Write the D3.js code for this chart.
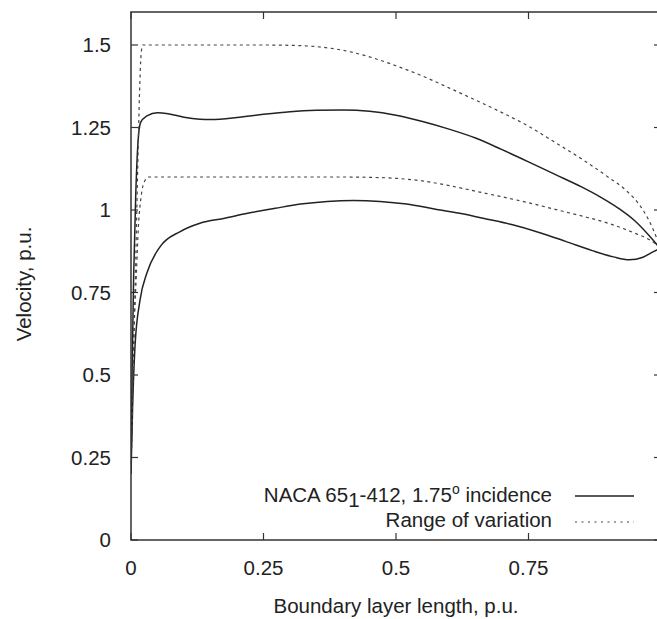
<!DOCTYPE html>
<html>
<head>
<meta charset="utf-8">
<script src="https://cdn.jsdelivr.net/npm/d3@7"></script>
<style>
  body { margin: 0; background: #fff; }
  text { font-family: "Liberation Sans", Arial, sans-serif; fill: #222; }
</style>
</head>
<body>
<svg id="svg" width="657" height="619"></svg>
<script>
// 速度分布 (x: 境界層長さ, y: 速度) 値は図から読み取り
const upperX = [0, 0.002, 0.005, 0.009, 0.013, 0.018, 0.03, 0.05, 0.07, 0.1, 0.13, 0.15, 0.2, 0.25, 0.3, 0.35, 0.4, 0.45, 0.5, 0.55, 0.6, 0.65, 0.7, 0.75, 0.8, 0.85, 0.885, 0.92, 0.95, 0.98, 1.0];
const upperY = [0.2, 0.5, 0.8, 1.05, 1.2, 1.265, 1.285, 1.295, 1.292, 1.281, 1.275, 1.274, 1.28, 1.29, 1.298, 1.302, 1.303, 1.299, 1.287, 1.268, 1.245, 1.218, 1.183, 1.146, 1.108, 1.07, 1.04, 1.005, 0.968, 0.918, 0.88];

const lowerX = [0, 0.003, 0.0075, 0.017, 0.03, 0.055, 0.092, 0.13, 0.177, 0.22, 0.272, 0.32, 0.37, 0.42, 0.47, 0.52, 0.57, 0.62, 0.67, 0.72, 0.77, 0.82, 0.87, 0.91, 0.94, 0.966, 0.985, 1.0];
const lowerY = [0.2, 0.4, 0.586, 0.727, 0.809, 0.889, 0.934, 0.96, 0.975, 0.99, 1.005, 1.018, 1.026, 1.029, 1.026, 1.018, 1.004, 0.99, 0.973, 0.955, 0.932, 0.905, 0.877, 0.858, 0.849, 0.857, 0.873, 0.885];

// 変動範囲 (点線)
const rangeHiX = [0, 0.004, 0.009, 0.013, 0.016, 0.019, 0.022, 0.25, 0.3, 0.35, 0.4, 0.45, 0.5, 0.55, 0.6, 0.65, 0.7, 0.75, 0.8, 0.85, 0.9, 0.935, 0.966, 0.985, 1.0];
const rangeHiY = [0.2, 0.5, 0.85, 1.15, 1.35, 1.47, 1.5, 1.5, 1.499, 1.495, 1.484, 1.464, 1.437, 1.406, 1.37, 1.333, 1.295, 1.254, 1.205, 1.155, 1.1, 1.058, 1.0, 0.942, 0.88];

const rangeLoX = [0, 0.005, 0.01, 0.014, 0.019, 0.025, 0.033, 0.4, 0.45, 0.5, 0.55, 0.6, 0.65, 0.7, 0.75, 0.8, 0.85, 0.9, 0.947, 0.979, 1.0];
const rangeLoY = [0.2, 0.6, 0.8, 0.95, 1.04, 1.085, 1.1, 1.1, 1.099, 1.096, 1.088, 1.074, 1.057, 1.04, 1.022, 1.002, 0.982, 0.96, 0.932, 0.909, 0.885];

const xTicks = [0, 0.25, 0.5, 0.75];
const yTicks = [0, 0.25, 0.5, 0.75, 1, 1.25, 1.5];
const legendLabels = ["NACA 65", "Range of variation"];

const svg = d3.select("#svg");
const pLeft = 131, pRight = 661, pTop = 12, pBottom = 540;
const fs = "20.5px";

const x = d3.scaleLinear().domain([0, 1]).range([pLeft, pRight]);
const y = d3.scaleLinear().domain([0, 1.6]).range([pBottom, pTop]);

svg.append("clipPath").attr("id", "clip")
  .append("rect").attr("x", pLeft).attr("y", pTop)
  .attr("width", pRight - pLeft).attr("height", pBottom - pTop);

//目盛り（四辺とも内向き）
const tickLen = 7;
const tickG = svg.append("g").attr("stroke", "#333").attr("stroke-width", 1.2);
xTicks.forEach(t => {
  tickG.append("line").attr("x1", x(t)).attr("x2", x(t)).attr("y1", pBottom).attr("y2", pBottom - tickLen);
  tickG.append("line").attr("x1", x(t)).attr("x2", x(t)).attr("y1", pTop).attr("y2", pTop + tickLen);
});
yTicks.forEach(t => {
  tickG.append("line").attr("x1", pLeft).attr("x2", pLeft + tickLen).attr("y1", y(t)).attr("y2", y(t));
  tickG.append("line").attr("x1", pRight).attr("x2", pRight - tickLen).attr("y1", y(t)).attr("y2", y(t));
});

// 目盛りラベル
svg.append("g").selectAll("text").data(xTicks).join("text")
  .attr("x", x).attr("y", 575)
  .attr("text-anchor", "middle").style("font-size", fs)
  .text(d => d);
svg.append("g").selectAll("text").data(yTicks).join("text")
  .attr("x", 111).attr("y", d => y(d)).attr("dy", "0.36em")
  .attr("text-anchor", "end").style("font-size", fs)
  .text(d => d);

// 軸タイトル
svg.append("text").attr("x", 396).attr("y", 613)
  .attr("text-anchor", "middle").style("font-size", fs)
  .text("Boundary layer length, p.u.");
svg.append("text")
  .attr("transform", "translate(31,284) rotate(-90)")
  .attr("text-anchor", "middle").style("font-size", fs)
  .text("Velocity, p.u.");

// 曲線
const line = d3.line().x(d => x(d[0])).y(d => y(d[1])).curve(d3.curveMonotoneX);
const plot = svg.append("g").attr("clip-path", "url(#clip)").attr("fill", "none");
const curves = [
  { xs: upperX, ys: upperY, dash: null },
  { xs: lowerX, ys: lowerY, dash: null },
  { xs: rangeHiX, ys: rangeHiY, dash: "3,3.5" },
  { xs: rangeLoX, ys: rangeLoY, dash: "3,3.5" },
];
curves.forEach(c => {
  plot.append("path")
    .attr("d", line(d3.zip(c.xs, c.ys)))
    .attr("stroke", c.dash ? "#444" : "#222")
    .attr("stroke-width", c.dash ? 1.2 : 1.5)
    .attr("stroke-dasharray", c.dash);
});

// 枠
svg.append("rect").attr("x", pLeft).attr("y", pTop)
  .attr("width", pRight - pLeft).attr("height", pBottom - pTop)
  .attr("fill", "none").attr("stroke", "#333").attr("stroke-width", 1.5);

// 凡例
const t1 = svg.append("text").attr("x", 552).attr("y", 502)
  .attr("text-anchor", "end").style("font-size", fs);
t1.append("tspan").text(legendLabels[0]);
t1.append("tspan").attr("dy", 5).text("1");
t1.append("tspan").attr("dy", -5).text("-412, 1.75");
t1.append("tspan").attr("dy", -8).style("font-size", "14px").text("o");
t1.append("tspan").attr("dy", 8).text(" incidence");

svg.append("text").attr("x", 552).attr("y", 527)
  .attr("text-anchor", "end").style("font-size", fs)
  .text(legendLabels[1]);

svg.append("line").attr("x1", 575).attr("x2", 634).attr("y1", 496).attr("y2", 496)
  .attr("stroke", "#222").attr("stroke-width", 1.5);
svg.append("line").attr("x1", 575).attr("x2", 634).attr("y1", 522).attr("y2", 522)
  .attr("stroke", "#444").attr("stroke-width", 1.2).attr("stroke-dasharray", "2,4.5");
</script>
</body>
</html>
